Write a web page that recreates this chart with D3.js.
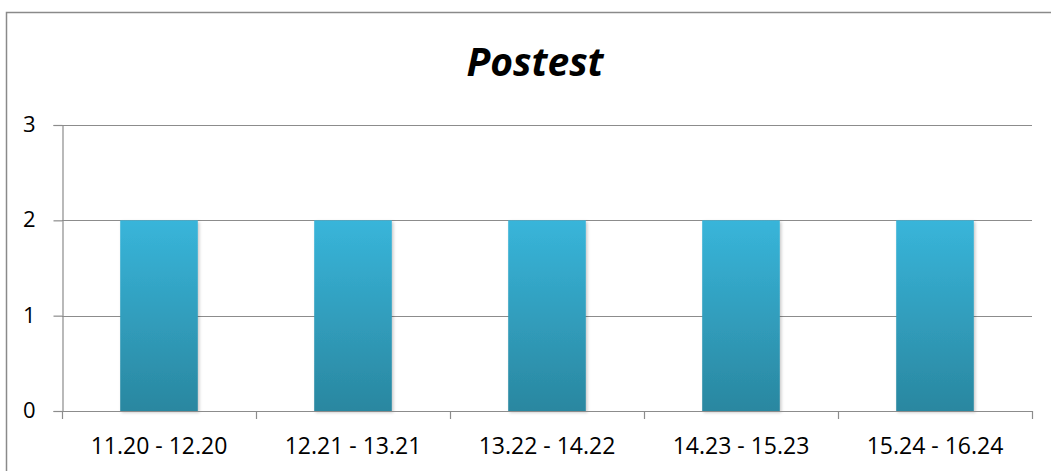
<!DOCTYPE html>
<html>
<head>
<meta charset="utf-8">
<script src="https://cdn.jsdelivr.net/npm/d3@7"></script>
<style>
  html, body { margin: 0; padding: 0; background: #fff; }
  svg { display: block; }
  text { font-family: "Open Sans", "Noto Sans", sans-serif; fill: #000; }
</style>
</head>
<body>
<svg id="chart" width="1051" height="471"></svg>
<script>
// Score ranges and how many students fall in each
const categories = ["11.20 - 12.20", "12.21 - 13.21", "13.22 - 14.22", "14.23 - 15.23", "15.24 - 16.24"];
const counts = [2, 2, 2, 2, 2];
const yTicks = [0, 1, 2, 3];
const title = "Postest";

const W = 1051, H = 471;
const plot = { left: 62, right: 1032, top: 125, bottom: 411 };

const svg = d3.select("#chart");

// Gradient fill for the bars and a soft shadow
const defs = svg.append("defs");
const grad = defs.append("linearGradient")
  .attr("id", "barFill").attr("x1", 0).attr("y1", 0).attr("x2", 0).attr("y2", 1);
grad.append("stop").attr("offset", "0%").attr("stop-color", "#38b5da");
grad.append("stop").attr("offset", "100%").attr("stop-color", "#2a87a0");
const shadow = defs.append("filter").attr("id", "barShadow")
  .attr("x", "-10%").attr("y", "-10%").attr("width", "130%").attr("height", "130%");
shadow.append("feDropShadow").attr("dx", 1.5).attr("dy", 1.5).attr("stdDeviation", 1.5)
  .attr("flood-color", "#000").attr("flood-opacity", 0.22);

// Chart frame
svg.append("rect")
  .attr("x", 6.5).attr("y", 12.5).attr("width", W + 10).attr("height", H + 10)
  .attr("fill", "none").attr("stroke", "#8a8a8a").attr("stroke-width", 1.5);

const x = d3.scaleBand().domain(categories)
  .range([plot.left, plot.right]).paddingInner(0.6).paddingOuter(0.3);
const y = d3.scaleLinear().domain([0, 3]).range([plot.bottom, plot.top]);

// Horizontal gridlines
svg.append("g").selectAll("line").data(yTicks.filter(d => d > 0)).join("line")
  .attr("x1", plot.left).attr("x2", plot.right)
  .attr("y1", d => Math.round(y(d)) + 0.5).attr("y2", d => Math.round(y(d)) + 0.5)
  .attr("stroke", "#8c8c8c").attr("stroke-width", 1.2);

// Y axis
const yAxis = svg.append("g")
  .attr("transform", `translate(${plot.left + 0.5},0)`)
  .call(d3.axisLeft(y).tickValues(yTicks).tickFormat(d3.format("d")).tickSize(9).tickPadding(18));
yAxis.select(".domain").attr("stroke", "#8c8c8c").attr("stroke-width", 1.2);
yAxis.selectAll(".tick line").attr("stroke", "#8c8c8c").attr("stroke-width", 1.2);
yAxis.selectAll(".tick text").style("font-size", "22px").attr("dy", "0.3em");

// Bars
svg.append("g").selectAll("rect").data(categories).join("rect")
  .attr("x", d => x(d))
  .attr("y", (d, i) => y(counts[i]))
  .attr("width", x.bandwidth())
  .attr("height", (d, i) => y(0) - y(counts[i]))
  .attr("fill", "url(#barFill)")
  .attr("filter", "url(#barShadow)");

// X axis with tick marks at category boundaries
const bounds = d3.range(categories.length + 1).map(i => plot.left + i * (plot.right - plot.left) / categories.length);
const xg = svg.append("g");
xg.append("line")
  .attr("x1", plot.left).attr("x2", plot.right)
  .attr("y1", plot.bottom + 0.5).attr("y2", plot.bottom + 0.5)
  .attr("stroke", "#8c8c8c").attr("stroke-width", 1.2);
xg.selectAll("line.tick").data(bounds).join("line").attr("class", "tick")
  .attr("x1", d => Math.round(d) + 0.5).attr("x2", d => Math.round(d) + 0.5)
  .attr("y1", plot.bottom).attr("y2", plot.bottom + 8)
  .attr("stroke", "#8c8c8c").attr("stroke-width", 1.2);
xg.selectAll("text").data(categories).join("text")
  .attr("x", d => x(d) + x.bandwidth() / 2)
  .attr("y", 454)
  .attr("text-anchor", "middle")
  .style("font-size", "23px")
  .text(d => d);

// Title, centred on the whole frame
svg.append("text")
  .attr("x", 535)
  .attr("y", 76)
  .attr("text-anchor", "middle")
  .style("font-size", "39px")
  .style("font-weight", "bold")
  .style("font-style", "italic")
  .text(title);
</script>
</body>
</html>
